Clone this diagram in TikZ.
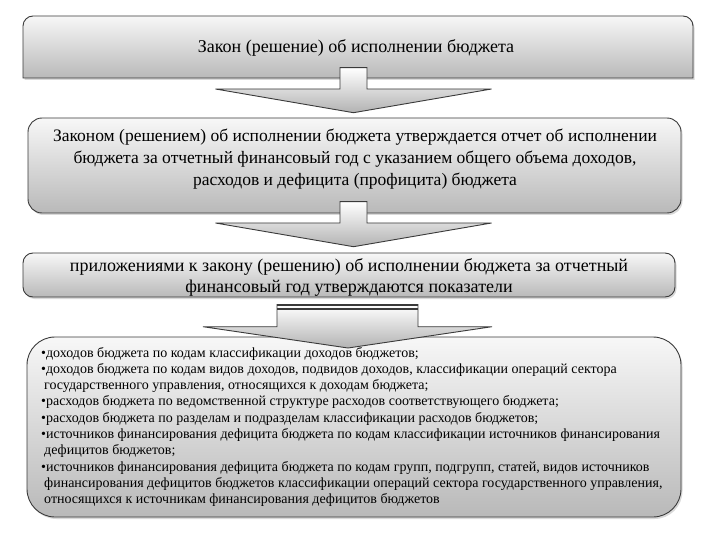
\documentclass[tikz,border=0pt]{standalone}
\usepackage{fontspec}
\setmainfont{Liberation Serif}
\usetikzlibrary{shadows}
\definecolor{edge}{HTML}{3A3A3A}
\begin{document}
\begin{tikzpicture}[x=1pt,y=-1pt,
  box/.style={draw=edge, line width=0.9pt, top color=gray!6, bottom color=gray!55,
    drop shadow={shadow xshift=1.5pt, shadow yshift=-2pt, opacity=0.3}},
  arr/.style={draw=edge, line width=0.9pt, top color=white, bottom color=gray!60},
  big/.style={font=\fontsize{18}{22}\selectfont, align=center, inner sep=0pt},
  ln/.style={anchor=base west, inner sep=0pt, font=\fontsize{14}{16}\selectfont}]
\useasboundingbox (0,0) rectangle (720,540);
% box 1
\path[box] (23,78) -- (23,26) .. controls (23,20.5) and (27.5,16) .. (33,16)
  -- (683,16) .. controls (688.5,16) and (693,20.5) .. (693,26) -- (693,78) -- cycle;
\node[big] (t1) at (356,48) {Закон (решение) об исполнении бюджета};
% arrow 1
\path[arr] (340,67.7) -- (367,67.7) -- (367,89) -- (491.5,89) -- (353.5,112.7)
  -- (215.5,89) -- (340,89) -- cycle;
% box 2
\path[box, rounded corners=14pt] (28,118) rectangle (681,213);
\node[big, font=\fontsize{17.5}{22}\selectfont] (t2) at (355,159) {Законом (решением) об исполнении бюджета утверждается отчет об исполнении\\
бюджета за отчетный финансовый год с указанием общего объема доходов,\\
расходов и дефицита (профицита) бюджета};
% arrow 2
\path[arr] (340,201.7) -- (367,201.7) -- (367,223) -- (491.5,223) -- (353.5,246.7)
  -- (215.5,223) -- (340,223) -- cycle;
% box 3
\path[box, rounded corners=10pt] (23,253) rectangle (675,297);
\node[big, font=\fontsize{18}{21}\selectfont] (t3) at (349,277.5) {приложениями к закону (решению) об исполнении бюджета за отчетный\\
финансовый год утверждаются показатели};
% box 4
\path[box, rounded corners=28pt] (27,337) rectangle (681,517);
% arrow 3
\path[arr] (277,304.5) -- (418,304.5) -- (418,326.7) -- (492,326.7) -- (348,348)
  -- (203,326.7) -- (277,326.7) -- cycle;
\draw[edge, line width=2pt] (277,304.5) -- (418,304.5);
\draw[edge, line width=1.8pt] (277,309.3) -- (418,309.3);
% list
\node[ln] (l1) at (41,357) {•доходов бюджета по кодам классификации доходов бюджетов;};
\node[ln] (l2) at (41,373.3) {•доходов бюджета по кодам видов доходов, подвидов доходов, классификации операций сектора};
\node[ln] (l3) at (44,389.6) {государственного управления, относящихся к доходам бюджета;};
\node[ln] (l4) at (41,405.9) {•расходов бюджета по ведомственной структуре расходов соответствующего бюджета;};
\node[ln] (l5) at (41,422.2) {•расходов бюджета по разделам и подразделам классификации расходов бюджетов;};
\node[ln] (l6) at (41,438.5) {•источников финансирования дефицита бюджета по кодам классификации источников финансирования};
\node[ln] (l7) at (44,454.8) {дефицитов бюджетов;};
\node[ln] (l8) at (41,471.1) {•источников финансирования дефицита бюджета по кодам групп, подгрупп, статей, видов источников};
\node[ln] (l9) at (44,487.4) {финансирования дефицитов бюджетов классификации операций сектора государственного управления,};
\node[ln] (l10) at (44,503.7) {относящихся к источникам финансирования дефицитов бюджетов};
\end{tikzpicture}
\end{document}
